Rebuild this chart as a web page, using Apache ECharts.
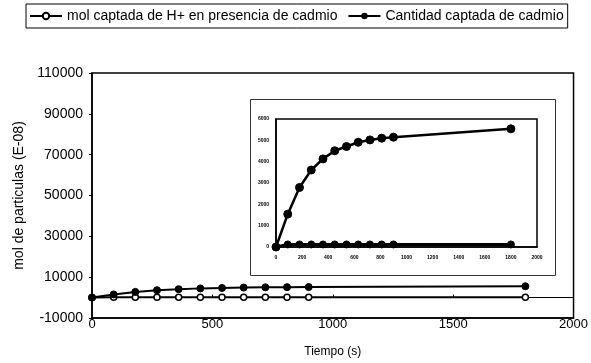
<!DOCTYPE html>
<html>
<head>
<meta charset="utf-8">
<script src="https://cdn.jsdelivr.net/npm/echarts@6/dist/echarts.min.js"></script>
<style>
  html, body { margin: 0; padding: 0; background: #fff; }
  #chart { width: 591px; height: 363px; }
</style>
</head>
<body>
<div id="chart"></div>
<script>
// Sampling times (s)
var tiempo = [0, 90, 180, 270, 360, 450, 540, 630, 720, 810, 900, 1800];
// Cadmium uptake, mol (E-08)
var cadmio = [0, 1540, 2790, 3610, 4130, 4510, 4710, 4910, 5020, 5100, 5150, 5540];
// H+ uptake in presence of cadmium, mol (E-08)
var hMas = [0, 120, 120, 120, 120, 120, 120, 120, 120, 120, 120, 120];

var nombreH = 'mol captada de H+ en presencia de cadmio';
var nombreCd = 'Cantidad captada de cadmio';

function pares(xs, ys) {
  return xs.map(function (x, i) { return [x, ys[i]]; });
}
function plano(v) { return String(v); }

var fuente = '"Liberation Sans", Arial, sans-serif';
var chart = echarts.init(document.getElementById('chart'), null, { renderer: 'canvas' });

chart.setOption({
  animation: false,
  backgroundColor: '#fff',
  textStyle: { fontFamily: fuente, color: '#000' },
  legend: {
    data: [nombreH, nombreCd],
    left: 26, top: 4,
    borderColor: '#000', borderWidth: 1,
    padding: [5, 4, 5, 3],
    itemWidth: 32, itemHeight: 8, itemGap: 10,
    textStyle: { fontSize: 14, color: '#000', fontFamily: fuente }
  },
  graphic: [{
    type: 'rect', z: 0,
    shape: { x: 250.5, y: 99.5, width: 305, height: 176 },
    style: { fill: 'none', stroke: '#333', lineWidth: 1 }
  }],
  grid: [
    { left: 92, top: 73, right: 17, bottom: 37, show: true, borderColor: '#000', borderWidth: 1.5 },
    { left: 276, top: 119, width: 261, height: 128, show: true, borderColor: '#000', borderWidth: 1.5, backgroundColor: '#fff' }
  ],
  xAxis: [
    {
      gridIndex: 0, type: 'value', min: 0, max: 2000, interval: 500,
      name: 'Tiempo (s)', nameLocation: 'middle', nameGap: 28,
      nameTextStyle: { fontSize: 12, color: '#000' },
      axisLine: { onZero: false, lineStyle: { color: '#000', width: 1.5 } },
      axisTick: { show: false },
      axisLabel: { fontSize: 13, color: '#000', margin: 0, formatter: plano },
      splitLine: { show: false }
    },
    {
      gridIndex: 0, type: 'value', min: 0, max: 2000, interval: 500,
      axisLine: { onZero: true, lineStyle: { color: '#000', width: 1 } },
      axisTick: { show: true, length: 3, lineStyle: { color: '#000' } },
      axisLabel: { show: false },
      splitLine: { show: false }
    },
    {
      gridIndex: 1, type: 'value', min: 0, max: 2000, interval: 200, z: 6,
      axisLine: { onZero: false, lineStyle: { color: '#000', width: 1.5 } },
      axisTick: { show: false },
      axisLabel: { fontSize: 5, fontWeight: 'bold', color: '#000', margin: 8, formatter: plano, hideOverlap: false },
      splitLine: { show: false }
    }
  ],
  yAxis: [
    {
      gridIndex: 0, type: 'value', min: -10000, max: 110000, interval: 20000,
      name: 'mol de particulas (E-08)', nameLocation: 'middle', nameGap: 62,
      nameTextStyle: { fontSize: 14, color: '#000' },
      axisLine: { show: true, lineStyle: { color: '#000', width: 1.5 } },
      axisTick: { show: true, length: 3, lineStyle: { color: '#000' } },
      axisLabel: { fontSize: 14, color: '#000', margin: 9, formatter: plano },
      splitLine: { show: false }
    },
    {
      gridIndex: 1, type: 'value', min: 0, max: 6000, interval: 1000, z: 6,
      axisLine: { show: true, lineStyle: { color: '#000', width: 1.5 } },
      axisTick: { show: false },
      axisLabel: { fontSize: 5, fontWeight: 'bold', color: '#000', margin: 7, formatter: plano, hideOverlap: false },
      splitLine: { show: false }
    }
  ],
  series: [
    {
      name: nombreH, type: 'line', xAxisIndex: 0, yAxisIndex: 0,
      data: pares(tiempo, hMas),
      symbol: 'circle', symbolSize: 6,
      itemStyle: { color: '#fff', borderColor: '#000', borderWidth: 1.5 },
      lineStyle: { color: '#000', width: 2 }
    },
    {
      name: nombreCd, type: 'line', xAxisIndex: 0, yAxisIndex: 0,
      data: pares(tiempo, cadmio),
      symbol: 'circle', symbolSize: 7,
      itemStyle: { color: '#000', borderColor: '#000' },
      lineStyle: { color: '#000', width: 2 }
    },
    {
      name: nombreH, type: 'line', xAxisIndex: 2, yAxisIndex: 1, z: 5,
      data: pares(tiempo, hMas),
      symbol: 'circle', symbolSize: 7,
      itemStyle: { color: '#000', borderColor: '#000' },
      lineStyle: { color: '#000', width: 3 }
    },
    {
      name: nombreCd, type: 'line', xAxisIndex: 2, yAxisIndex: 1, z: 5,
      data: pares(tiempo, cadmio),
      symbol: 'circle', symbolSize: 8,
      itemStyle: { color: '#000', borderColor: '#000' },
      lineStyle: { color: '#000', width: 2.5 }
    }
  ]
});
</script>
</body>
</html>
